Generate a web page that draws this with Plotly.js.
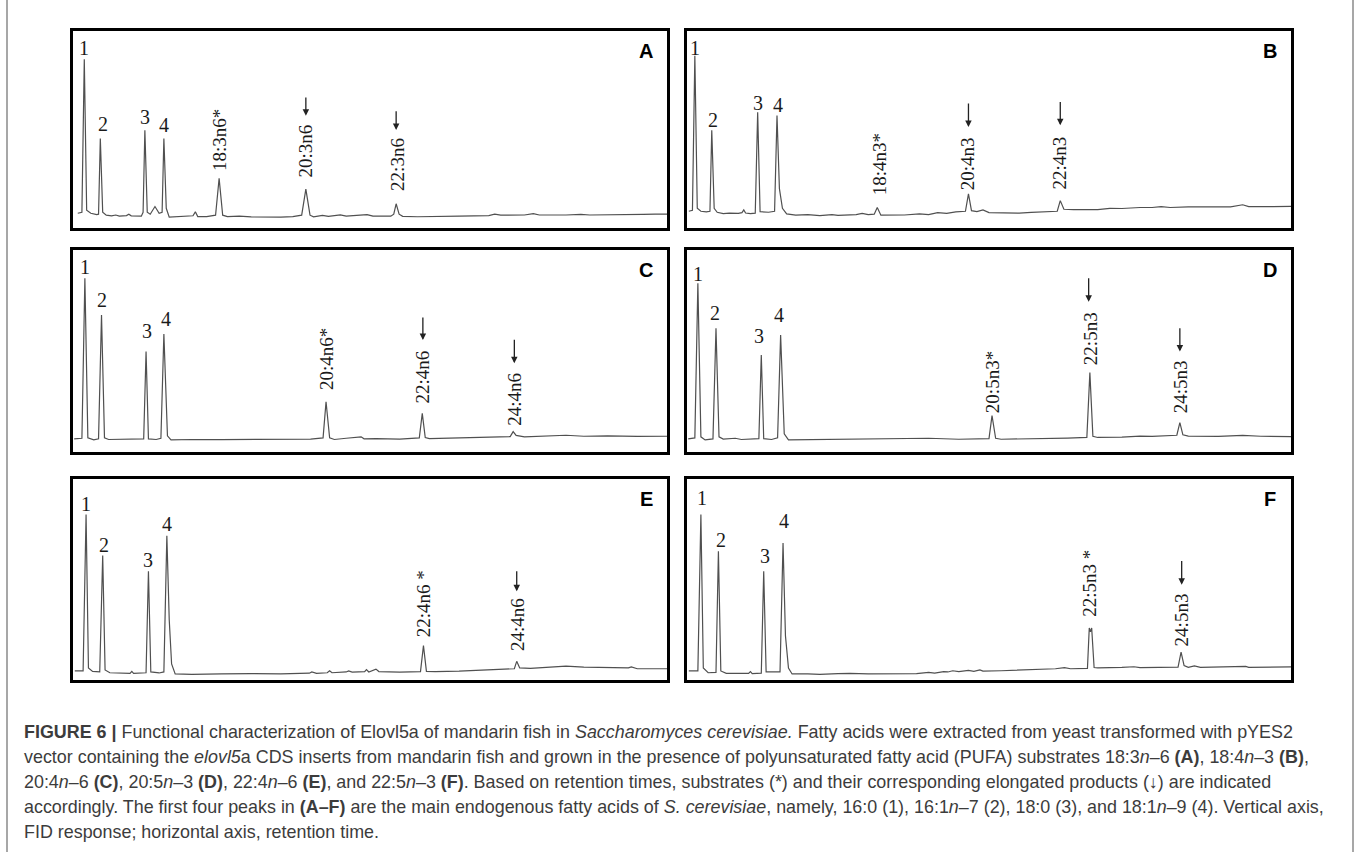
<!DOCTYPE html>
<html><head><meta charset="utf-8">
<script src="https://cdn.plot.ly/plotly-3.0.1.min.js"></script>
<style>html,body{margin:0;padding:0;background:#fff;} #chart{width:1357px;height:852px;}</style>
</head><body><div id="chart"></div>
<script>
// ---- chromatogram data: [relative retention time, relative FID response] ----
const chromA = [[0.8,7.5],[1.5,8],[1.9,85.7],[2.3,9],[3.0,7.5],[4.0,6.8],[4.3,7],[4.6,45.4],[5.0,8],[5.6,6.5],[6.5,6.2],[7.2,6.6],[7.8,6.0],[9.0,6.3],[9.4,7.0],[9.8,6.2],[11.5,6.0],[11.8,8],[12.1,49.6],[12.5,8],[13.0,7.0],[13.8,10.9],[14.5,7.5],[15.0,8],[15.3,45.4],[15.7,10],[16.2,5.5],[18,5.8],[20.2,6.2],[20.6,8.2],[21.0,5.8],[22.5,5.8],[24.0,6.5],[24.6,25.2],[25.2,6.5],[26,5.8],[28,6],[30,5.6],[33,5.4],[35,5.5],[37,5.8],[38.5,6.5],[39.2,19.7],[39.9,6.5],[40.5,5.7],[42,6.4],[43,5.9],[45,6.7],[46,6.0],[48,6.3],[49.5,6.8],[50.5,6.0],[53.5,6.0],[54.0,7.0],[54.4,12.3],[54.9,7.0],[55.5,5.9],[58,5.7],[62,6.0],[64,6.3],[65,6.0],[70,6.3],[71,7.0],[72,6.5],[76,6.6],[77.5,7.3],[78.5,6.6],[83,6.6],[85.5,6.9],[87,6.6],[92,6.6],[94,6.8],[96,6.9],[98,7.0],[100,7.0]];
const chromB = [[0.3,8.5],[0.9,9],[1.3,87.4],[1.7,10],[2.3,8.5],[3.2,8.2],[3.8,8.5],[4.1,49.6],[4.5,10],[5.0,8.0],[6.0,7.3],[7.0,7.5],[8.5,7.4],[9.1,7.8],[9.4,9.2],[9.7,7.6],[10.5,7.3],[11.3,7.5],[11.7,58.8],[12.1,8.3],[13.5,8],[14.5,8.5],[14.9,57.1],[15.3,20],[15.8,10],[16.5,7.2],[18,6.5],[20,6.8],[22,6.3],[24,6.8],[25,6.4],[28,6.8],[29,7.4],[30,6.8],[31,7],[31.5,10.4],[32.1,6.5],[33,6.5],[36,6.6],[38.5,7.2],[40,6.8],[41.5,7.8],[43,7.4],[44.5,8.2],[46.1,8.5],[46.6,17.3],[47.1,8.8],[48,8.3],[49,9.2],[50,7.8],[53,7.6],[55,7.5],[57,7.9],[59,8.3],[61.3,8.5],[61.8,13.9],[62.4,9.5],[64,9.3],[68,9.3],[70,10],[72,9.9],[75,10.4],[77,10.4],[78.5,10.9],[80,10.4],[83,10.7],[90,10.7],[92,11.8],[93,10.9],[97,10.9],[100,11]];
const chromC = [[0.2,6.5],[1.5,6.8],[2.0,86],[2.5,7],[3.5,6],[4.3,6.5],[4.8,67.8],[5.3,7],[6,6.2],[8,6.4],[10,6.3],[11.9,6.5],[12.3,49.7],[12.7,6.5],[14,6.2],[14.8,6.8],[15.3,58.4],[15.9,8],[16.5,6],[20,6.2],[25,6.1],[30,6.3],[35,6.2],[40,6.4],[42.1,7],[42.6,24.9],[43.2,7],[44,6.2],[46,6.8],[48.5,7.5],[49,6.5],[51,6.6],[55,6.4],[58.3,7],[58.8,19.1],[59.3,7.2],[60,6.6],[63,6.8],[66,7.2],[68,7.4],[70,7.5],[73.6,7.6],[74.1,10.1],[74.6,8.2],[76,7.5],[80,7.9],[83,8.3],[86,7.8],[90,8.0],[95,7.7],[100,7.8]];
const chromD = [[0.2,6.5],[1.3,7],[1.8,83.5],[2.3,7.5],[3,6],[4.3,6.5],[4.8,61.2],[5.3,7.5],[6,6.4],[8,6.8],[9,6.2],[11.9,6.6],[12.3,48],[12.7,6.6],[14,6.2],[15,7],[15.5,57.9],[16.1,9],[16.8,6],[20,6.1],[25,6.2],[30,6.4],[35,6.5],[40,6.8],[45,6.3],[50,6.6],[50.5,18],[51.1,6.8],[52,6.3],[56,6.4],[60,6.5],[63,6.9],[66.2,7.2],[66.7,39.3],[67.2,7.8],[68,7.2],[72,7.4],[75,7.9],[77,7.7],[80,8],[81.1,8.3],[81.6,14.5],[82.1,8.5],[83,7.9],[88,7.7],[92,8.2],[95,7.8],[100,7.6]];
const chromE = [[0.3,4.5],[1.7,4.5],[2.2,82.3],[2.6,6],[3.3,4.3],[4.5,4],[5.0,61.9],[5.4,5],[6.2,3.6],[8,3.4],[9.6,3.3],[9.9,4.3],[10.2,3.3],[12.3,3.6],[12.7,54.1],[13.1,4],[14.5,3.5],[15.3,4],[15.8,71.8],[16.2,30],[16.6,8],[17.2,3],[20,2.8],[25,3.0],[30,3.2],[35,3.0],[39.8,3.4],[40.2,4.0],[41,3.3],[42.8,3.6],[43.2,4.6],[43.6,3.6],[46,4.0],[46.4,4.5],[47,3.9],[49.1,4.2],[49.4,5.2],[49.8,4.0],[50.5,4.6],[51,5.4],[51.5,4.2],[55,3.9],[58.5,4.2],[59.0,17.1],[59.5,4.3],[61,4.2],[65,4.4],[68,4.7],[70,5.2],[72,5.4],[74.3,5.6],[74.7,9.3],[75.2,6],[77,5.8],[80,6.2],[83,6.9],[86,6.4],[90,6.2],[93.5,6.0],[94,6.5],[95,5.6],[100,5.6]];
const chromF = [[0.3,4.5],[1.8,4.5],[2.3,82.3],[2.7,6],[3.5,3.6],[4.8,3.8],[5.2,64],[5.6,4.5],[6.5,3.3],[9,3.2],[10.2,3.3],[10.5,4.2],[10.8,3.2],[12.3,3.4],[12.7,54.1],[13.1,4],[14.8,3.8],[15.4,4],[15.9,68.2],[16.3,22],[16.8,6],[17.4,3],[20,3],[22,2.8],[25,3.2],[27,3.3],[30,3],[38,3.2],[40,3.8],[41,3.4],[42.5,4.2],[43.2,4],[44,4.6],[45,4.2],[46.6,4.8],[47.5,4.3],[48.5,5],[49,4.4],[52,4.6],[55,5],[59,5.3],[61,5.6],[62.5,6.2],[63.5,5.6],[66.3,5.8],[66.6,25.9],[66.8,24],[67.0,25.9],[67.4,6.2],[68,6],[72,6.3],[74,6.6],[75,6.2],[81.3,6.4],[81.8,13.9],[82.3,7.2],[83,6.3],[84,7],[85,6.3],[90,6.4],[92.5,6.8],[93,6.3],[97,6.6],[100,6.5]];

// ---- peak labels ----
const panelLetters = ['A','B','C','D','E','F'];
const peakTextA = ['1','2','3','4','18:3n6*','20:3n6','22:3n6'];
const peakTextB = ['1','2','3','4','18:4n3*','20:4n3','22:4n3'];
const peakTextC = ['1','2','3','4','20:4n6*','22:4n6','24:4n6'];
const peakTextD = ['1','2','3','4','20:5n3*','22:5n3','24:5n3'];
const peakTextE = ['1','2','3','4','22:4n6 *','24:4n6'];
const peakTextF = ['1','2','3','4','22:5n3 *','24:5n3'];
// elongation products marked with an arrow (index into the label lists)
const productsA = [5,6], productsB = [5,6], productsC = [5,6], productsD = [5,6], productsE = [5], productsF = [5];

// ---- placement (layout) ----
const W = 1357, H = 852;
const cols = [[73,667],[687,1291]];
const rows = [[31,228],[250,452],[479,680]];
const labelPlace = {
  A:[[1.9,91.2],[5.1,53],[12.2,56.4],[15.4,52.1],[24.7,44.5],[39.3,39.1],[54.5,32.4]],
  B:[[1.4,91.6],[4.3,54.6],[11.8,63.4],[15.1,62.6],[31.8,32.4],[46.5,32.8],[61.6,32.8]],
  C:[[2.0,91.7],[4.9,75.2],[12.4,60],[15.6,66],[42.6,46],[58.8,37],[74.2,26.2]],
  D:[[1.8,88.2],[4.6,68.6],[12.0,57.5],[15.2,67.8],[50.6,34.4],[66.7,56.3],[81.7,32.3]],
  E:[[2.2,87.7],[5.2,67.3],[12.7,59.9],[15.8,77.7],[59.0,37.9],[74.8,27.5]],
  F:[[2.4,90.5],[5.6,69.8],[12.9,61.5],[16.1,79],[66.5,48.2],[81.9,30]]
};
const arrowPlace = {
  A:[[39.2,67,57],[54.4,60,49.8]],
  B:[[46.6,64,51.3],[61.8,64.7,52.1]],
  C:[[58.9,67.3,55.4],[74.3,56.3,43.9]],
  D:[[66.5,86.8,74.4],[81.6,62,49.7]],
  E:[[74.7,54.9,44.1]],
  F:[[81.9,59.9,47.4]]
};

const chroms = [chromA,chromB,chromC,chromD,chromE,chromF];
const texts = [peakTextA,peakTextB,peakTextC,peakTextD,peakTextE,peakTextF];
const products = [productsA,productsB,productsC,productsD,productsE,productsF];

const serif = 'Liberation Serif, Times New Roman, serif';
const sans = 'Liberation Sans, Arial, sans-serif';
const narrow = 'Liberation Sans Narrow, Arial Narrow, Liberation Sans, sans-serif';

const data = [];
const layout = {
  width: W, height: H, margin:{l:0,r:0,t:0,b:0},
  paper_bgcolor:'#fff', plot_bgcolor:'#fff', showlegend:false,
  annotations: [], shapes: []
};

chroms.forEach((c, i) => {
  const n = i + 1;
  const xa = n === 1 ? 'x' : 'x' + n, ya = n === 1 ? 'y' : 'y' + n;
  const xk = n === 1 ? 'xaxis' : 'xaxis' + n, yk = n === 1 ? 'yaxis' : 'yaxis' + n;
  const col = cols[i % 2], row = rows[Math.floor(i / 2)];
  data.push({type:'scatter', mode:'lines', x:c.map(p=>p[0]), y:c.map(p=>p[1]),
    xaxis:xa, yaxis:ya, line:{color:'#505050', width:1.2}, hoverinfo:'skip'});
  const axCommon = {showline:true, mirror:true, linewidth:3, linecolor:'#000',
    showgrid:false, zeroline:false, showticklabels:false, ticks:'', fixedrange:true};
  layout[xk] = Object.assign({}, axCommon, {domain:[col[0]/W, col[1]/W], range:[0,100], anchor:ya});
  layout[yk] = Object.assign({}, axCommon, {domain:[1-row[1]/H, 1-row[0]/H], range:[0,100], anchor:xa});
  const letter = panelLetters[i];
  // panel letter
  layout.annotations.push({xref:xa, yref:ya, x:96.5, y:90, text:'<b>'+letter+'</b>', showarrow:false,
    xanchor:'center', yanchor:'middle', font:{family:sans, size:20, color:'#000'}});
  // peak labels
  texts[i].forEach((t, j) => {
    const p = labelPlace[letter][j];
    layout.annotations.push({xref:xa, yref:ya, x:p[0], y:p[1], text:t, showarrow:false,
      textangle: j >= 4 ? -90 : 0, xanchor:'center', yanchor:'middle',
      font:{family:serif, size: j >= 4 ? 19 : 20, color:'#1a1a1a'}});
  });
  // arrows for elongation products
  products[i].forEach((k, m) => {
    const a = arrowPlace[letter][m];
    layout.annotations.push({xref:xa, yref:ya, axref:xa, ayref:ya, x:a[0], y:a[2], ax:a[0], ay:a[1],
      text:'', showarrow:true, arrowhead:2, arrowsize:1, arrowwidth:1.3, arrowcolor:'#222', standoff:0, startstandoff:0});
  });
});

// outer figure frame
layout.shapes.push({type:'line', xref:'paper', yref:'paper', x0:7/W, x1:7/W, y0:0, y1:1, line:{color:'#8a8a8a', width:1.5}});
layout.shapes.push({type:'line', xref:'paper', yref:'paper', x0:1353/W, x1:1353/W, y0:0, y1:1, line:{color:'#8a8a8a', width:1.5}});

// caption
const captionLines = [
  '<b>FIGURE 6 |</b> Functional characterization of Elovl5a of mandarin fish in <i>Saccharomyces cerevisiae.</i> Fatty acids were extracted from yeast transformed with pYES2',
  'vector containing the <i>elovl5</i>a CDS inserts from mandarin fish and grown in the presence of polyunsaturated fatty acid (PUFA) substrates 18:3<i>n</i>–6 <b>(A)</b>, 18:4<i>n</i>–3 <b>(B)</b>,',
  '20:4<i>n</i>–6 <b>(C)</b>, 20:5<i>n</i>–3 <b>(D)</b>, 22:4<i>n</i>–6 <b>(E)</b>, and 22:5<i>n</i>–3 <b>(F)</b>. Based on retention times, substrates (*) and their corresponding elongated products (↓) are indicated',
  'accordingly. The first four peaks in <b>(A–F)</b> are the main endogenous fatty acids of <i>S. cerevisiae</i>, namely, 16:0 (1), 16:1<i>n</i>–7 (2), 18:0 (3), and 18:1<i>n</i>–9 (4). Vertical axis,',
  'FID response; horizontal axis, retention time.'
];
captionLines.forEach((t, k) => {
  layout.annotations.push({xref:'paper', yref:'paper', x:22/W, y:1-(732+25*k)/H, text:t, showarrow:false,
    xanchor:'left', yanchor:'middle', align:'left', font:{family:narrow, size:17.9, color:'#3c3c3c'}});
});

Plotly.newPlot('chart', data, layout, {staticPlot:true, displayModeBar:false});
</script>
</body></html>
